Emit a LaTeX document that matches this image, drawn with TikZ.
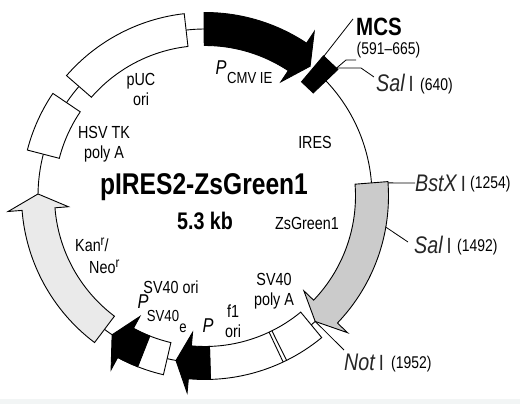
\documentclass[tikz,border=0pt]{standalone}
\usepackage{fontspec}
\setmainfont[FakeStretch=0.82]{Liberation Sans}
\definecolor{strip}{HTML}{F2F5F5}
\definecolor{grayA}{HTML}{CBCBCB}
\definecolor{grayB}{HTML}{EAEAEA}
\newcommand{\plasarrow}[4]{% fill, tail, head base, tip
  \draw[feat,fill=#1] (#2:183.5) arc[start angle=#2,end angle=#3,radius=183.5]
    -- (#3:197.5) -- (#4:167) -- (#3:137) -- (#3:150.5)
    arc[start angle=#3,end angle=#2,radius=150.5] -- cycle;}
\newcommand{\plasbox}[3]{% fill, from, to
  \draw[feat,fill=#1] (#2:183.5) arc[start angle=#2,end angle=#3,radius=183.5]
    -- (#3:150.5) arc[start angle=#3,end angle=#2,radius=150.5] -- cycle;}
\newcommand{\plasline}[2]{\draw[bb] (#1:167) arc[start angle=#1,end angle=#2,radius=167];}
\newcommand{\siteI}{\,{\upshape\fontsize{22}{24}\selectfont I}}
\newcommand{\supr}{\raisebox{6pt}{\fontsize{14}{15}\selectfont r}}
\tikzset{
  feat/.style={draw=black,line width=0.9pt,line join=miter},
  bb/.style={draw=black,line width=0.9pt},
  lead/.style={draw=black,line width=0.8pt},
  lab/.style={font=\fontsize{17.5}{19}\selectfont,inner sep=0pt,align=center,text=black},
  sublab/.style={font=\fontsize{16}{18}\selectfont,inner sep=0pt,text=black},
  small/.style={font=\fontsize{17}{19}\selectfont,inner sep=0pt,text=black},
  site/.style={font=\fontsize{24}{26}\selectfont\itshape,inner sep=0pt,text=black!85},
  pee/.style={font=\fontsize{20}{22}\selectfont\itshape,inner sep=0pt},
}
\begin{document}
\begin{tikzpicture}[x=1pt,y=1pt]
\useasboundingbox (0,0) rectangle (520,404);
\fill[white] (0,0) rectangle (520,404);
\fill[strip] (0,0) rectangle (520,5);
\begin{scope}[shift={(205,208)}]
  \plasline{90.3}{96.5}
  \plasline{139}{146}
  \plasline{165.5}{179.3}
  \plasline{233}{236.2}
  \plasline{256.9}{260}
  \plasline{309.5}{311.3}
  \plasline{43.6}{4.5}
  \plasbox{white}{96.5}{139}
  \plasbox{white}{146}{165.5}
  \plasarrow{grayB}{233}{184.5}{179.3}
  \plasbox{white}{271.7}{309.5}
  \draw[feat] (295.2:150.5) -- (295.2:183.5);
  \draw[feat] (296.4:150.5) -- (296.4:183.5);
  \plasarrow{black}{271.7}{264.8}{260}
  \plasbox{white}{241.6}{256.9}
  \plasarrow{black}{248.5}{241.6}{236.2}
  \plasarrow{black}{90.3}{56.4}{51}
  \plasarrow{grayA}{4.5}{-43.8}{-48.7}
  \draw[feat,fill=black] (49.8:183.5) -- (43.6:183.5) -- (43.6:149.5) -- (49.8:149.5) -- cycle;
  \coordinate (mcsTop) at (49.6:182);
  \coordinate (mcsSite) at (44.2:183.5);
  \coordinate (bstxSite) at (4.1:183.5);
  \coordinate (salSite) at (-9.7:183);
  \coordinate (notSite) at (311.3:167);
\end{scope}
% MCS and sites
\node[font=\fontsize{25}{27}\selectfont\bfseries,inner sep=0pt] (mcs) at (379,377) {MCS};
\node[small] (mcsrange) at (388.5,354) {(591–665)};
\coordinate (mcsEnd) at (353,385);
\draw[lead] (mcsTop) -- (mcsEnd);
\coordinate (rangeElbowA) at (346,344);
\coordinate (rangeElbowB) at (356,344);
\draw[lead] (mcsSite) -- (rangeElbowA) -- (rangeElbowB);
\coordinate (salElbow) at (361,336);
\coordinate (salEnd) at (374,327);
\draw[lead] (333,336) -- (salElbow) -- (salEnd);
\node[site,anchor=west] (sal) at (376,321) {Sal\siteI};
\node[small,anchor=west] (sal640) at (420,318) {(640)};
\node[site,anchor=west] (bstx) at (415,221) {BstX\siteI};
\node[small,anchor=west] (n1254) at (470,220) {(1254)};
\draw[lead] (bstxSite) -- (bstx.west);
\node[site,anchor=west] (sal2) at (414,159) {Sal\siteI};
\node[small,anchor=west] (n1492) at (457,157) {(1492)};
\draw[lead] (salSite) -- (408,162);
\node[site,anchor=west] (notI) at (344,42) {Not\siteI};
\node[small,anchor=west] (n1952) at (391,40) {(1952)};
\draw[lead] (notSite) -- (344,54);
% inner labels
\node[pee] (pcmv) at (221,336) {P};
\node[sublab,anchor=west] (cmvie) at (227,326) {CMV IE};
\node[lab] (puc) at (141,315) {pUC\\[1pt]ori};
\node[lab] (hsv) at (104,260) {HSV TK\\[1pt]poly A};
\node[lab] (ires) at (315,262) {IRES};
\node[font=\fontsize{30}{34}\selectfont\bfseries,inner sep=0pt] (title) at (204,217) {pIRES2-ZsGreen1};
\node[font=\fontsize{24}{26}\selectfont\bfseries,inner sep=0pt] (size) at (205,183) {5.3 kb};
\node[lab] (zs) at (307,181) {ZsGreen1};
\node[lab] (polya) at (274,113) {SV40\\[1pt]poly A};
\node[lab] (f1) at (233,83) {f1\\[1pt]ori};
\node[pee] (p1) at (208,78) {P};
\node[lab] (svori) at (171,117) {SV40 ori};
\node[pee] (p2) at (143,102) {P};
\node[sublab] (sv40) at (163,88) {SV40};
\node[sublab] (sube) at (183,76) {e};
\node[lab,anchor=west] (kan) at (75,159) {Kan\supr/};
\node[lab,anchor=west] (neo) at (89,137) {Neo\supr};
\end{tikzpicture}
\end{document}
